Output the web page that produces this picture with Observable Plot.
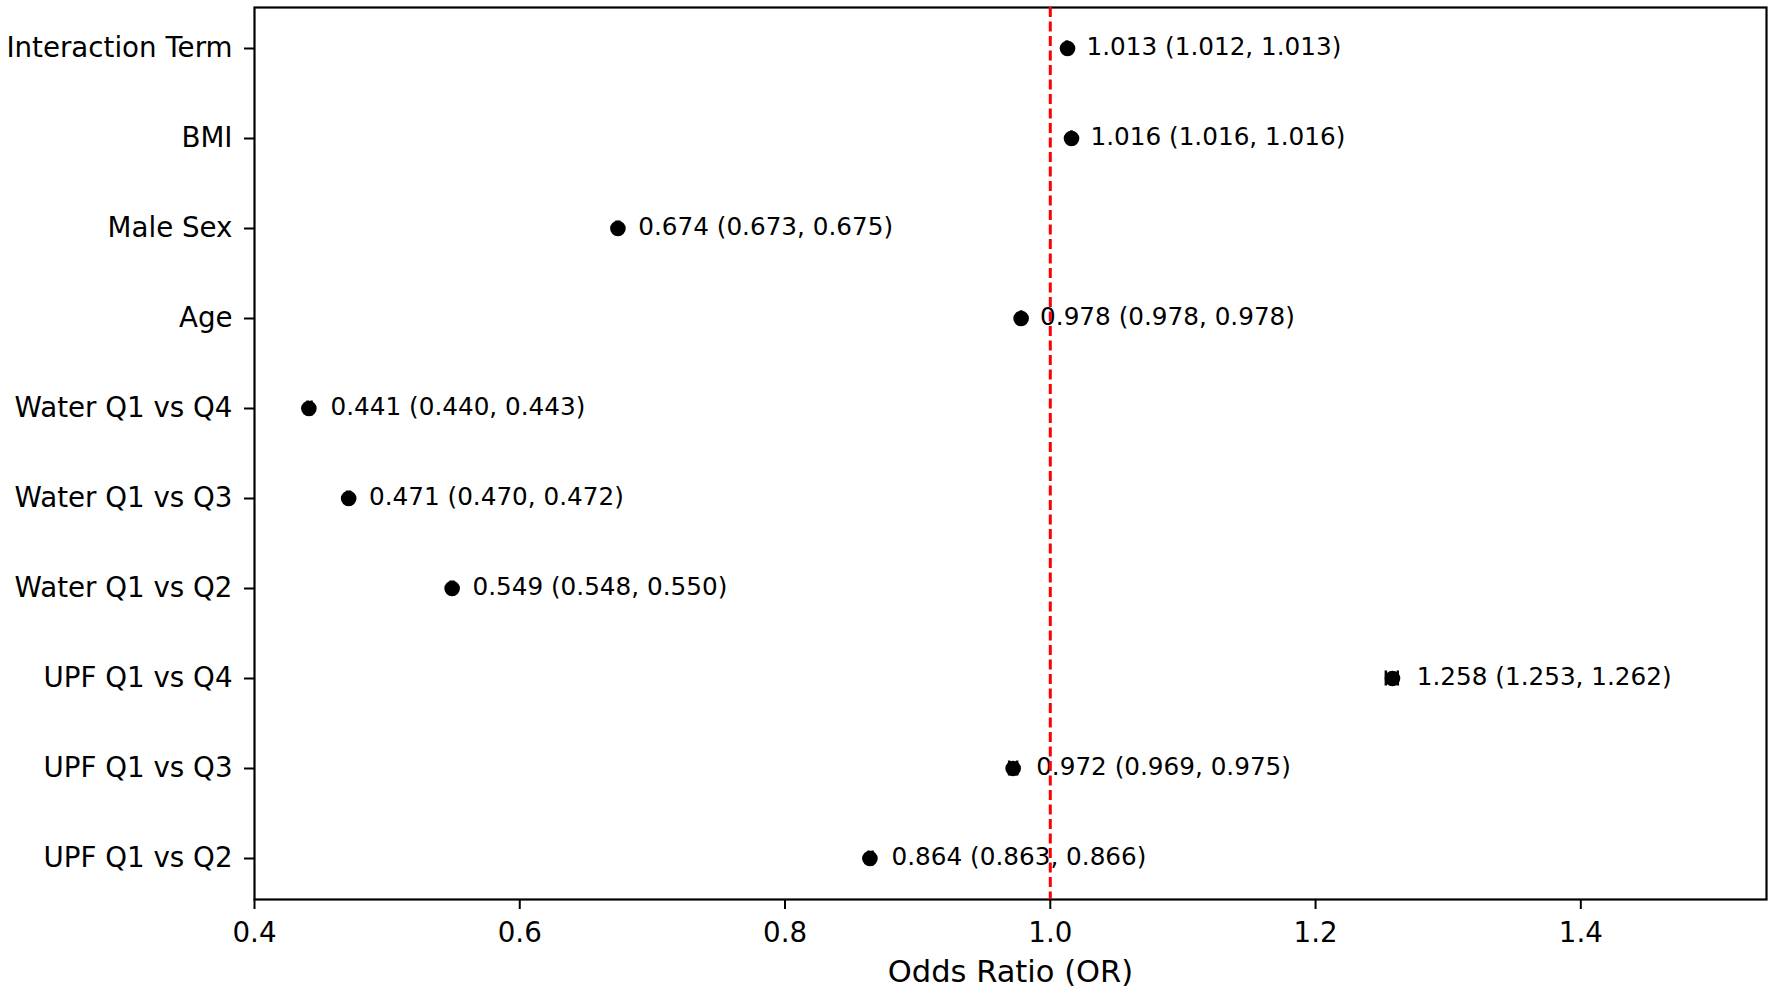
<!DOCTYPE html>
<html>
<head>
<meta charset="utf-8">
<script src="https://cdn.jsdelivr.net/npm/d3@7"></script>
<script src="https://cdn.jsdelivr.net/npm/@observablehq/plot@0.6"></script>
<style>
  html, body { margin: 0; padding: 0; background: #fff; }
  #chart { width: 1772px; height: 997px; }
</style>
</head>
<body>
<div id="chart"></div>
<script>
// Categories, top to bottom as drawn
const names = ["Interaction Term", "BMI", "Male Sex", "Age", "Water Q1 vs Q4", "Water Q1 vs Q3", "Water Q1 vs Q2", "UPF Q1 vs Q4", "UPF Q1 vs Q3", "UPF Q1 vs Q2"];
const oddsRatio = [1.013, 1.016, 0.674, 0.978, 0.441, 0.471, 0.549, 1.258, 0.972, 0.864];
const ciLower  = [1.012, 1.016, 0.673, 0.978, 0.440, 0.470, 0.548, 1.253, 0.969, 0.863];
const ciUpper  = [1.013, 1.016, 0.675, 0.978, 0.443, 0.472, 0.550, 1.262, 0.975, 0.866];
const xTicks = [0.4, 0.6, 0.8, 1.0, 1.2, 1.4];
const xLabel = "Odds Ratio (OR)";
const refValue = [1.0];

const data = names.map((n, i) => ({name: n, or: oddsRatio[i], lower: ciLower[i], upper: ciUpper[i]}));
const fmt = v => v.toFixed(3);

const chart = Plot.plot({
  width: 1772,
  height: 997,
  marginTop: 7,
  marginBottom: 98,
  marginLeft: 254,
  marginRight: 6,
  style: {fontFamily: "DejaVu Sans", fontSize: "27.7px", background: "white", color: "black"},
  x: {domain: [0.4, 1.54], ticks: xTicks, tickFormat: d3.format(".1f"), label: null},
  y: {type: "band", domain: names, padding: 0, insetTop: -4.5, insetBottom: -4.5, label: null},
  marks: [
    Plot.frame({stroke: "black", strokeWidth: 2.2}),
    Plot.axisX({ticks: xTicks, tickFormat: d3.format(".1f"), tickSize: 10, tickPadding: 13, fontSize: 27.7, strokeWidth: 2, label: null}),
    Plot.axisY({tickSize: 10, tickPadding: 12, fontSize: 27.7, strokeWidth: 2, label: null}),
    Plot.ruleY(data, {y: "name", x1: "lower", x2: "upper", stroke: "black", strokeWidth: 2.5}),
    Plot.tickX(data, {x: "lower", y: "name", stroke: "black", strokeWidth: 2.5, insetTop: 37.5, insetBottom: 37.5}),
    Plot.tickX(data, {x: "upper", y: "name", stroke: "black", strokeWidth: 2.5, insetTop: 37.5, insetBottom: 37.5}),
    Plot.dot(data, {x: "or", y: "name", r: 7.8, fill: "black"}),
    Plot.text(data, {x: "upper", y: "name", text: d => `${fmt(d.or)} (${fmt(d.lower)}, ${fmt(d.upper)})`, textAnchor: "start", dx: 19, dy: -1.5, fontSize: 24.7, fill: "black"}),
    Plot.ruleX(refValue, {stroke: "red", strokeWidth: 3, strokeDasharray: "10,4.5"}),
    Plot.text([xLabel], {text: d => d, frameAnchor: "bottom", dy: 82, fontSize: 30.5, fill: "black"})
  ]
});
document.getElementById("chart").appendChild(chart);
</script>
</body>
</html>
